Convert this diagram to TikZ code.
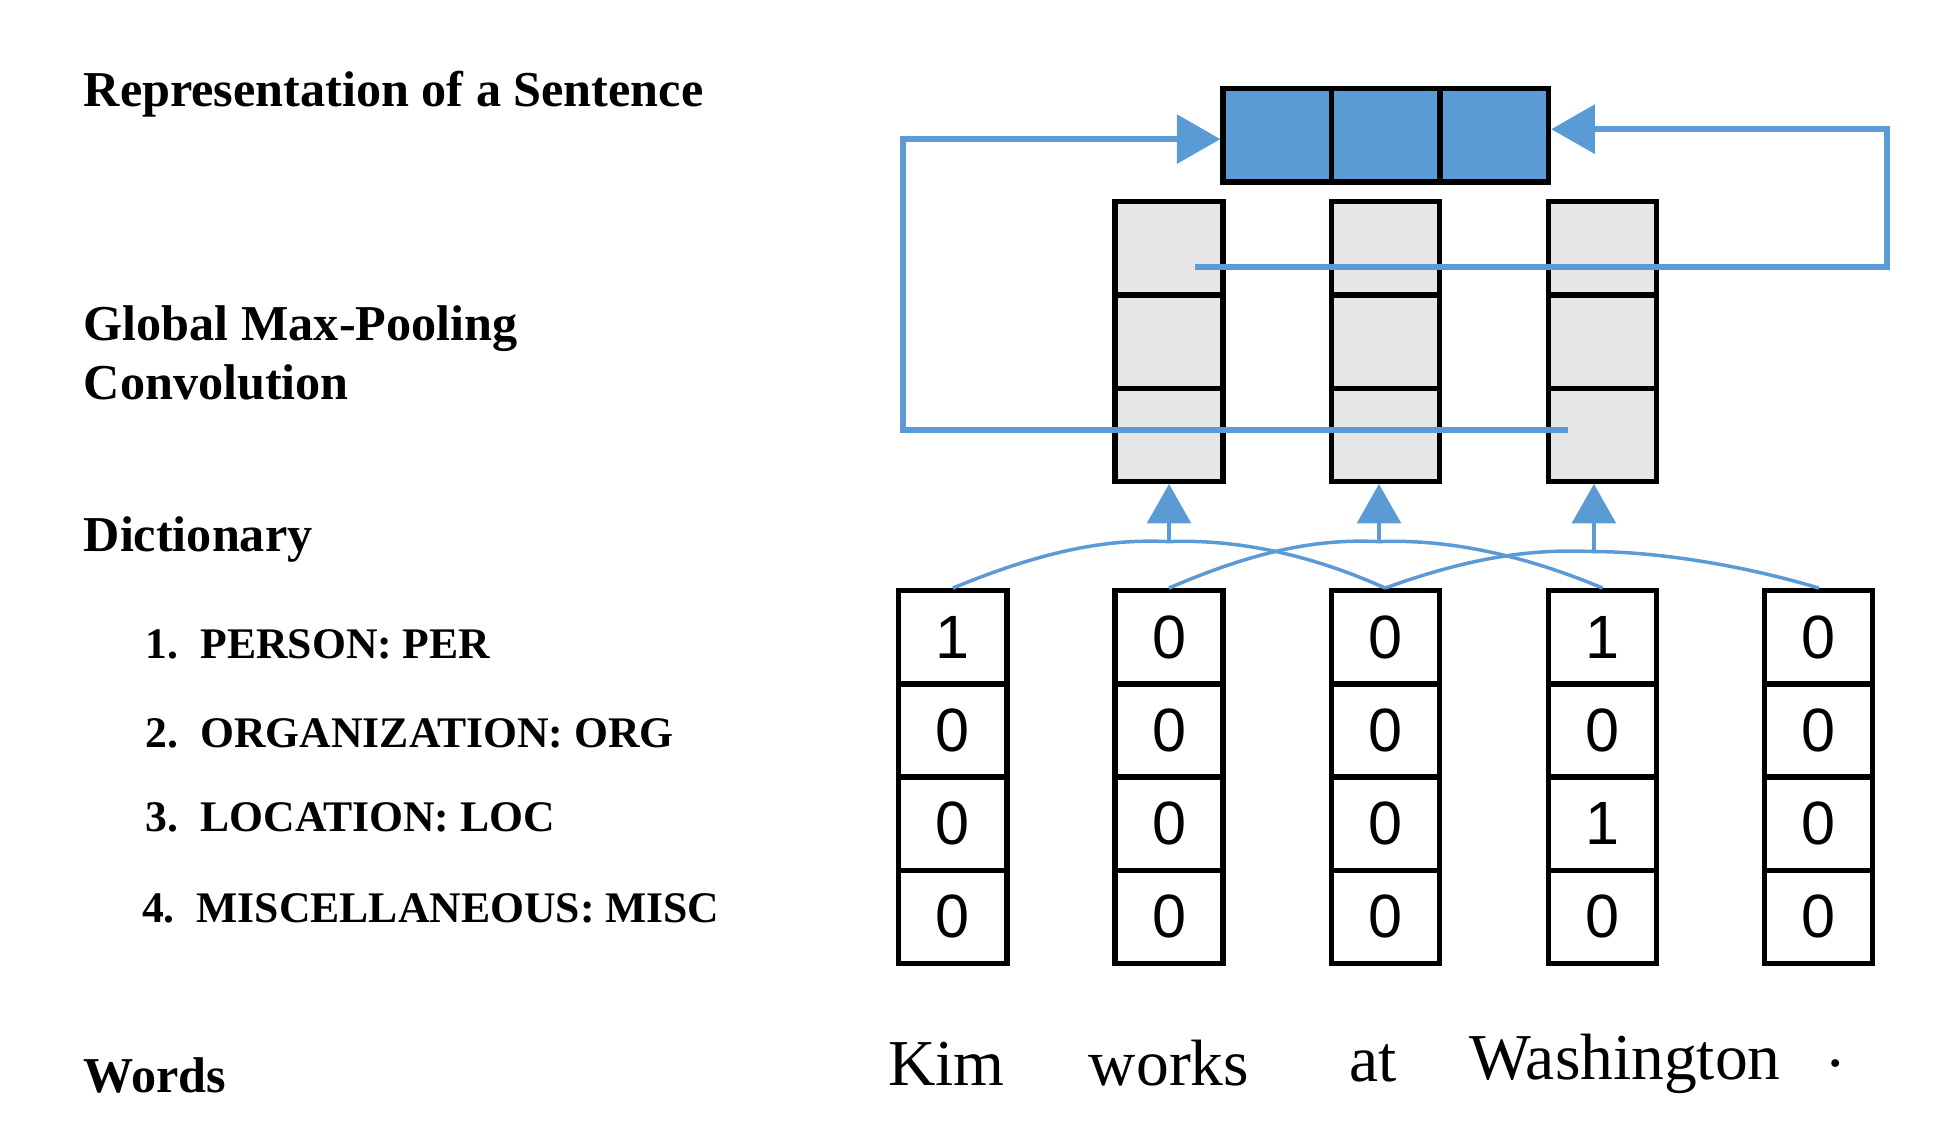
\documentclass[tikz,border=0pt]{standalone}
\usepackage{fontspec}
\setmainfont{Liberation Serif}
\newfontfamily\digitfont{Liberation Sans}
\usetikzlibrary{positioning, arrows.meta}
\definecolor{cnnblue}{RGB}{91,155,213}
\definecolor{poolgray}{RGB}{230,230,230}
\tikzset{
  cell/.style={draw, line width=1.2pt, minimum width=0.87cm, minimum height=0.75cm, inner sep=0pt, font=\digitfont\fontsize{14}{14}\selectfont},
  pool/.style={cell, fill=poolgray},
  rep/.style={cell, fill=cnnblue},
  lbl/.style={anchor=west, font=\bfseries\fontsize{11.5}{13.5}\selectfont, align=left},
  item/.style={anchor=west, font=\bfseries\fontsize{10}{12}\selectfont},
  word/.style={font=\fontsize{15}{15}\selectfont},
  loop/.style={draw=cnnblue, line width=1.5pt, -{Triangle[width=11pt,length=10pt]}},
  up/.style={draw=cnnblue, line width=0.8pt, -{Triangle[width=10pt,length=9pt]}},
  filt/.style={draw=cnnblue, line width=0.8pt}
}
\begin{document}
\begin{tikzpicture}
\useasboundingbox (0,0) rectangle (15.6,9.24);
% left labels
\node[lbl] (lrep) at (0.55,8.48) {Representation of a Sentence};
\node[lbl] (lpool) at (0.55,6.4) {Global Max-Pooling\\Convolution};
\node[lbl] (ldict) at (0.55,4.9) {Dictionary};
\node[item] (d1) at (1.05,4.05) {1.\ \ PERSON: PER};
\node[item] (d2) at (1.05,3.34) {2.\ \ ORGANIZATION: ORG};
\node[item] (d3) at (1.05,2.66) {3.\ \ LOCATION: LOC};
\node[item] (d4) at (1.02,1.93) {4.\ \ MISCELLANEOUS: MISC};
\node[lbl] (lwords) at (0.55,0.58) {Words};
% one-hot columns
\foreach \c/\x/\a/\b/\d/\e in {1/7.67/1/0/0/0, 2/9.41/0/0/0/0, 3/11.15/0/0/0/0, 4/12.90/1/0/1/0, 5/14.64/0/0/0/0} {
  \node[cell] (c\c r1) at (\x,4.11) {\a};
  \node[cell] (c\c r2) at (\x,3.36) {\b};
  \node[cell] (c\c r3) at (\x,2.61) {\d};
  \node[cell] (c\c r4) at (\x,1.86) {\e};
}
% words
\node[word] (w1) at (7.62,0.68) {Kim};
\node[word] (w2) at (9.41,0.68) {works};
\node[word] (w3) at (11.05,0.68) {at};
\node[word] (w4) at (13.08,0.68) {Washington};
\node[word] (w5) at (14.78,0.68) {.};
% pooled feature maps
\foreach \g/\x in {1/9.41, 2/11.15, 3/12.90} {
  \node[pool] (g\g r1) at (\x,7.24) {};
  \node[pool] (g\g r2) at (\x,6.49) {};
  \node[pool] (g\g r3) at (\x,5.74) {};
}
% sentence representation
\node[rep] (t1) at (10.28,8.15) {};
\node[rep] (t2) at (11.15,8.15) {};
\node[rep] (t3) at (12.03,8.15) {};
% convolution windows
\coordinate (p1) at (9.41,4.88);
\coordinate (p2) at (11.10,4.88);
\coordinate (p3) at (12.83,4.80);
\draw[filt] (c1r1.north) .. controls (8.5,4.85) and (9.0,4.9) .. (p1) .. controls (9.9,4.9) and (10.5,4.8) .. (c3r1.north);
\draw[filt] (c2r1.north) .. controls (10.2,4.85) and (10.7,4.9) .. (p2) .. controls (11.6,4.9) and (12.2,4.8) .. (c4r1.north);
\draw[filt] (c3r1.north) .. controls (11.9,4.78) and (12.4,4.82) .. (p3) .. controls (13.3,4.8) and (14.0,4.7) .. (c5r1.north);
\draw[up] (p1) -- (g1r3.south);
\draw[up] (p2) -- (g2r3.south -| p2);
\draw[up] (p3) -- (g3r3.south -| p3);
% max-pooling loops
\coordinate (lstart) at (12.62,5.78);
\coordinate (rstart) at (9.62,7.09);
\draw[loop] (lstart) -| (7.27,8.12) -- (t1.west |- 0,8.12);
\draw[loop] (rstart) -| (15.19,8.2) -- (t3.east |- 0,8.2);
\end{tikzpicture}
\end{document}
